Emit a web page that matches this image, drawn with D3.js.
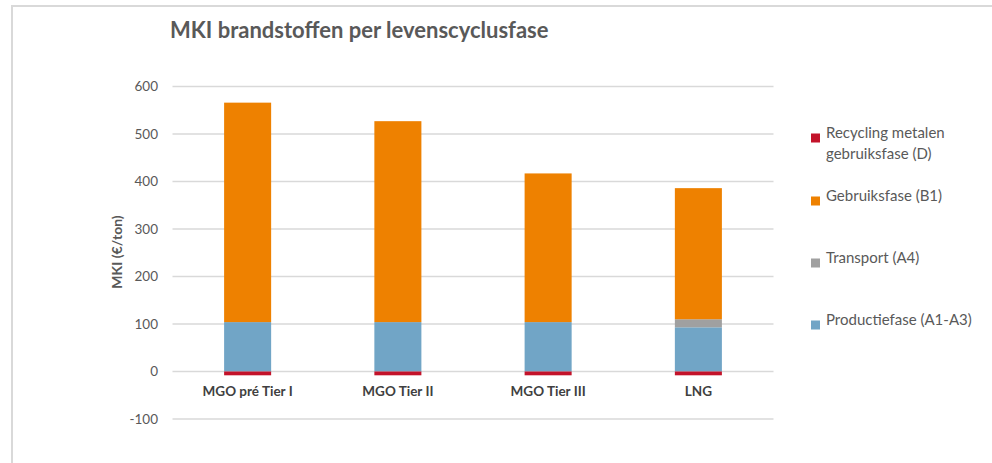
<!DOCTYPE html>
<html>
<head>
<meta charset="utf-8">
<script src="https://cdn.jsdelivr.net/npm/d3@7"></script>
<style>
  body { margin: 0; background: #fff; }
  svg { display: block; font-family: Lato, "Open Sans", sans-serif; }
</style>
</head>
<body>
<script>
// categories and series (MKI in euro per ton)
const categories = ['MGO pré Tier I', 'MGO Tier II', 'MGO Tier III', 'LNG'];
const productie = [104, 104, 104, 93];
const transport = [0, 0, 0, 17];
const gebruik = [462, 423, 313, 276];
const recycling = [-8, -8, -8, -8];
const yTicks = [-100, 0, 100, 200, 300, 400, 500, 600];

const series = [
  { key: 'Productiefase (A1-A3)', values: productie, color: '#71a5c6' },
  { key: 'Transport (A4)', values: transport, color: '#a0a0a0' },
  { key: 'Gebruiksfase (B1)', values: gebruik, color: '#ee8100' },
  { key: 'Recycling metalen gebruiksfase (D)', values: recycling, color: '#c3132a' }
];

const width = 992, height = 463;
const svg = d3.select('body').append('svg')
  .attr('width', width).attr('height', height);

// chart border (only top and left visible)
svg.append('path')
  .attr('d', `M12,${height} V6 H${width}`)
  .attr('fill', 'none').attr('stroke', '#d9d9d9').attr('stroke-width', 2);

const x = d3.scaleBand().domain(categories).range([172.5, 773.5]).paddingInner(0.687).paddingOuter(0.3435);
const y = d3.scaleLinear().domain([-100, 600]).range([419, 86.5]);

// gridlines
svg.append('g').selectAll('line').data(yTicks).join('line')
  .attr('x1', 172.5).attr('x2', 773.5)
  .attr('y1', d => y(d)).attr('y2', d => y(d))
  .attr('stroke', '#d9d9d9').attr('stroke-width', 1.3);

// y tick labels
svg.append('g').selectAll('text').data(yTicks).join('text')
  .attr('x', 158).attr('y', d => y(d)).attr('dy', '0.35em')
  .attr('text-anchor', 'end').attr('font-size', 13.5).attr('fill', '#595959')
  .text(d => d);

// stacked bars: positives stack upward, negatives downward
categories.forEach((c, i) => {
  let pos = 0, neg = 0;
  series.forEach(s => {
    const v = s.values[i];
    if (!v) return;
    let y0, y1;
    if (v >= 0) { y0 = pos; y1 = pos + v; pos = y1; }
    else { y0 = neg + v; y1 = neg; neg = y0; }
    svg.append('rect')
      .attr('x', x(c)).attr('width', x.bandwidth())
      .attr('y', y(y1)).attr('height', y(y0) - y(y1))
      .attr('fill', s.color);
  });
});

// x labels
svg.append('g').selectAll('text').data(categories).join('text')
  .attr('x', d => x(d) + x.bandwidth() / 2).attr('y', 396)
  .attr('text-anchor', 'middle').attr('font-size', 13.5).attr('font-weight', 'bold')
  .attr('fill', '#404040')
  .text(d => d);

// axis title
svg.append('text')
  .attr('transform', 'translate(122,252) rotate(-90)')
  .attr('text-anchor', 'middle').attr('font-size', 14).attr('font-weight', 'bold')
  .attr('fill', '#595959')
  .text('MKI (€/ton)');

// chart title
svg.append('text')
  .attr('x', 170).attr('y', 38)
  .attr('font-size', 22).attr('font-weight', 'bold').attr('fill', '#595959')
  .text('MKI brandstoffen per levenscyclusfase');

// legend (top to bottom, reversed series order)
const legend = [
  { lines: ['Recycling metalen', 'gebruiksfase (D)'], color: series[3].color, y: 138 },
  { lines: ['Gebruiksfase (B1)'], color: series[2].color, y: 201 },
  { lines: ['Transport (A4)'], color: series[1].color, y: 263 },
  { lines: ['Productiefase (A1-A3)'], color: series[0].color, y: 325 }
];
const lg = svg.append('g').selectAll('g').data(legend).join('g');
lg.append('rect')
  .attr('x', 811).attr('y', d => d.y - 4.5).attr('width', 9).attr('height', 9)
  .attr('fill', d => d.color);
lg.append('text')
  .attr('x', 826).attr('y', d => d.y).attr('dy', '0.35em')
  .attr('font-size', 15).attr('fill', '#595959')
  .selectAll('tspan').data(d => d.lines).join('tspan')
  .attr('x', 826).attr('dy', (d, i) => i ? 21 : 0)
  .text(d => d);
</script>
</body>
</html>
